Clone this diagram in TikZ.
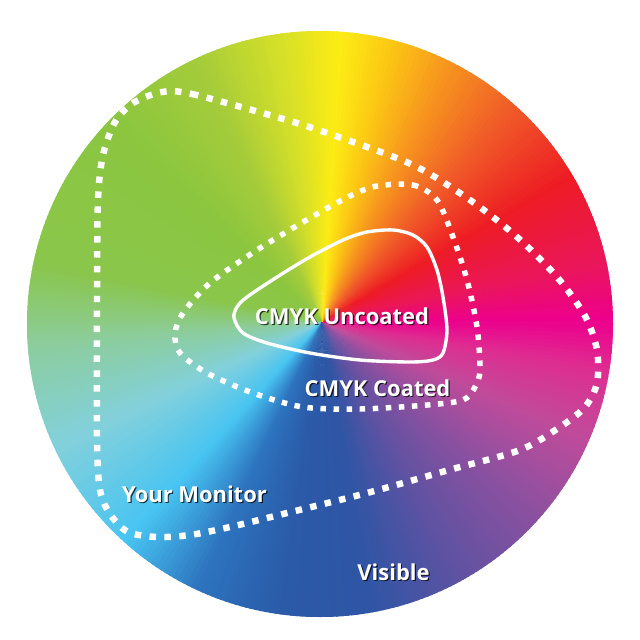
\documentclass[tikz,border=0pt]{standalone}
\usepackage{fontspec}
\newfontfamily\gamutfont{Open Sans}
\usepackage{xcolor}
\usepackage{tikz}
\usetikzlibrary{positioning}

% colour stops of the wheel
\definecolor{cMag}{RGB}{236,0,140}
\definecolor{cPnk}{RGB}{234,22,90}
\definecolor{cRed}{RGB}{237,28,36}
\definecolor{cOrR}{RGB}{240,90,40}
\definecolor{cOrg}{RGB}{247,150,30}
\definecolor{cYOr}{RGB}{252,200,20}
\definecolor{cYel}{RGB}{252,236,20}
\definecolor{cYGr}{RGB}{215,224,40}
\definecolor{cLim}{RGB}{165,204,58}
\definecolor{cGrn}{RGB}{140,198,63}
\definecolor{cGrt}{RGB}{138,198,75}
\definecolor{cTeG}{RGB}{140,205,160}
\definecolor{cTea}{RGB}{130,208,220}
\definecolor{cCya}{RGB}{72,196,242}
\definecolor{cMBl}{RGB}{45,115,190}
\definecolor{cBlu}{RGB}{42,90,168}
\definecolor{cBlt}{RGB}{48,85,165}
\definecolor{cVio}{RGB}{95,82,162}
\definecolor{cPur}{RGB}{140,80,160}
\definecolor{cPPk}{RGB}{192,75,155}
\definecolor{cPkt}{RGB}{222,45,145}

\begin{document}
\begin{tikzpicture}[
        x = 0.025cm, y = -0.025cm,
        monitor/.style = { draw = white, line width = 4.6pt, dash pattern = on 4.6pt off 6pt },
        coated/.style = { draw = white, line width = 3.9pt, dash pattern = on 3.9pt off 5.4pt },
        uncoated/.style = { draw = white, line width = 2.4pt },
        gamutlabel/.style = { font = \gamutfont\bfseries\fontsize{15.6}{18}\selectfont, text = white, inner sep = 0pt, anchor = base },
        gamutshadow/.style = { gamutlabel, text = black, opacity = 0.75 },
        ]
        \useasboundingbox (0,0) rectangle (640,640);
        \fill[white] (0,0) rectangle (640,640);

        \coordinate (O) at (320,324);
        \coordinate (C) at (322,322);

        % the wheel
        \begin{scope}
            \clip (O) circle (293);
            \foreach \ta/\tb/\ca/\cb in {0/12/cMag/cPnk, 12/30/cPnk/cRed, 30/48/cRed/cOrR, 48/64/cOrR/cOrg,
                    64/76/cOrg/cYOr, 76/86/cYOr/cYel, 86/98/cYel/cYGr, 98/115/cYGr/cLim, 115/135/cLim/cGrn,
                    135/168/cGrn/cGrt, 168/185/cGrt/cTeG, 185/205/cTeG/cTea, 205/228/cTea/cCya, 228/245/cCya/cMBl,
                    245/262/cMBl/cBlu, 262/280/cBlu/cBlt, 280/298/cBlt/cVio, 298/318/cVio/cPur, 318/336/cPur/cPPk,
                    336/350/cPPk/cPkt, 350/360/cPkt/cMag}{
                \pgfmathtruncatemacro\tend{\tb-1}
                \foreach \t in {\ta,...,\tend}{
                    \pgfmathtruncatemacro\pc{100*(\t-\ta)/(\tb-\ta)}
                    \colorlet{wedge}{\cb!\pc!\ca}
                    \fill[wedge] (C) -- +({-\t+0.3}:420) -- +({-\t-1.3}:420) -- cycle;
                }
            }
        \end{scope}

        % gamut outlines
        \draw[monitor] plot[smooth cycle, tension = 0.5] coordinates {
            (162,92) (192,94) (280,118) (333,135) (413,165) (470,200) (517,237) (557,277) (585,316)
            (597,350) (597,383) (585,407) (560,427) (520,450) (449,470) (367,493) (283,514) (230,527)
            (190,535) (157,537) (128,532) (110,514) (100,490) (97,440) (97,300) (98,200) (103,155)
            (115,122) (133,103)};
        \draw[coated] plot[smooth cycle, tension = 0.5] coordinates {
            (377,186) (413,185) (437,200) (453,237) (467,280) (477,327) (480,370) (475,387) (463,400)
            (427,405) (360,409) (303,407) (253,393) (207,373) (180,353) (175,334) (183,313) (210,283)
            (257,250) (310,218) (350,196)};
        \draw[uncoated] plot[smooth cycle, tension = 0.5] coordinates {
            (367,232) (393,230) (413,235) (427,247) (437,270) (443,297) (447,330) (443,353) (433,360)
            (410,362) (360,360) (310,353) (267,343) (243,333) (234,318) (237,307) (247,297) (277,277)
            (310,257) (343,240)};

        % labels
        \node[gamutshadow] (uncoatedShadow) at (343.2,325.2) {CMYK Uncoated};
        \node[gamutlabel] (uncoatedLabel) at (342,324) {CMYK Uncoated};
        \node[gamutshadow] (coatedShadow) at (378.7,397.2) {CMYK Coated};
        \node[gamutlabel] (coatedLabel) at (377.5,396) {CMYK Coated};
        \node[gamutshadow] (monitorShadow) at (195.7,503.2) {Your Monitor};
        \node[gamutlabel] (monitorLabel) at (194.5,502) {Your Monitor};
        \node[gamutshadow] (visibleShadow) at (394.7,581.2) {Visible};
        \node[gamutlabel] (visibleLabel) at (393.5,580) {Visible};

\end{tikzpicture}
\end{document}
